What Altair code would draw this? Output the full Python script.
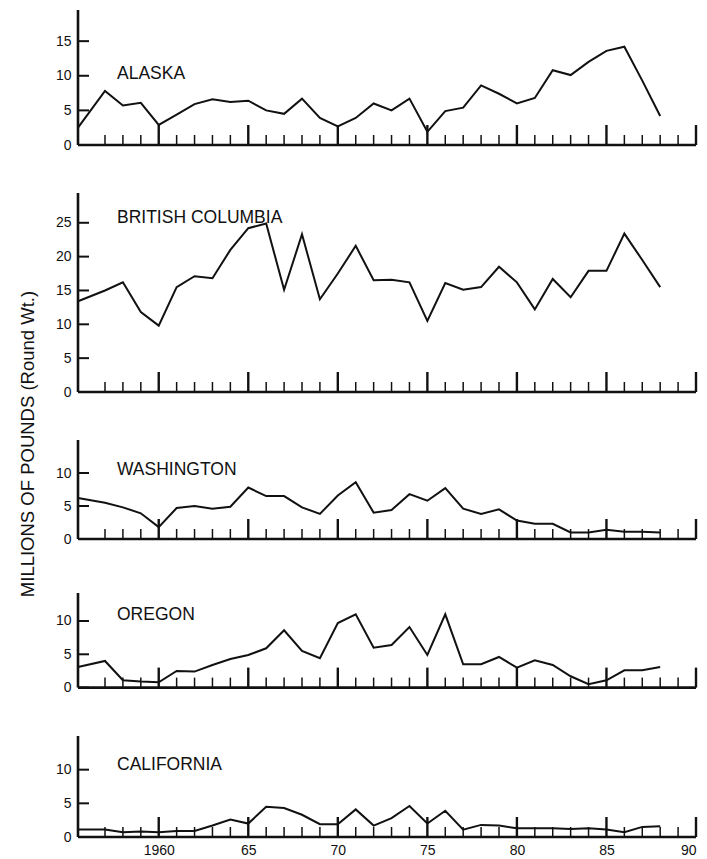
import altair as alt
import pandas as pd

FONT = "Liberation Sans"

# ---- data (millions of pounds, round weight) ----
years = list(range(1956, 1989))

alaska = [2.5, 7.8, 5.7, 6.1, 2.9, 4.4, 5.9, 6.6, 6.2, 6.4, 5.0, 4.5, 6.7, 3.9, 2.7, 3.9, 6.0,
          5.0, 6.7, 1.9, 4.9, 5.4, 8.6, 7.4, 6.0, 6.8, 10.8, 10.1, 12.0, 13.6, 14.2, 9.3, 4.2]
british_columbia = [13.4, 15.0, 16.2, 11.8, 9.8, 15.5, 17.1, 16.8, 21.0, 24.2, 24.9, 15.1, 23.3,
                    13.7, 17.5, 21.6, 16.5, 16.6, 16.2, 10.5, 16.1, 15.1, 15.5, 18.5, 16.2, 12.2,
                    16.7, 14.0, 17.9, 17.9, 23.4, 19.5, 15.5]
washington = [6.2, 5.5, 4.8, 3.9, 1.8, 4.7, 5.0, 4.6, 4.9, 7.8, 6.5, 6.5, 4.8, 3.8, 6.6, 8.6, 4.0,
              4.4, 6.8, 5.8, 7.7, 4.6, 3.8, 4.5, 2.8, 2.3, 2.3, 1.0, 1.0, 1.4, 1.1, 1.1, 1.0]
oregon = [3.1, 4.0, 1.1, 0.9, 0.8, 2.5, 2.4, 3.4, 4.3, 4.9, 5.9, 8.6, 5.5, 4.4, 9.7, 11.0, 6.0,
          6.4, 9.1, 4.9, 11.0, 3.5, 3.5, 4.6, 3.0, 4.1, 3.4, 1.7, 0.5, 1.1, 2.6, 2.6, 3.1]
california = [1.1, 1.1, 0.7, 0.8, 0.7, 0.9, 0.9, 1.7, 2.6, 2.0, 4.5, 4.3, 3.3, 1.9, 1.9, 4.1, 1.7,
              2.8, 4.6, 2.0, 3.9, 1.1, 1.8, 1.7, 1.3, 1.3, 1.3, 1.2, 1.3, 1.1, 0.7, 1.5, 1.6]

region_names = ["ALASKA", "BRITISH COLUMBIA", "WASHINGTON", "OREGON", "CALIFORNIA"]
tick_years = list(range(1957, 1991))
major_years = [1960, 1965, 1970, 1975, 1980, 1985, 1990]
y_tick_values = [[0, 5, 10, 15], [0, 5, 10, 15, 20, 25], [0, 5, 10], [0, 5, 10], [0, 5, 10]]
y_domains = [[0, 19.5], [0, 29.4], [-0.86, 15], [0, 14.2], [0, 15]]
y_title = "MILLIONS OF POUNDS (Round Wt.)"

# ---- layout ----
W = 618
heights = [135, 199, 104.7, 94.6, 101]
zero_px = [135, 199, 99, 94.6, 101]
name_y = [64, 25, 30, 22, 29]

X_SCALE = alt.Scale(domain=[1956, 1957, 1990], range=[0, 27, W], nice=False, zero=False)

series = [alaska, british_columbia, washington, oregon, california]


def panel(i):
    bottom = i == 4
    df = pd.DataFrame({"year": years, "value": series[i]})
    yscale = alt.Scale(domain=y_domains[i], nice=False, zero=False)
    yaxis = alt.Axis(values=y_tick_values[i], domain=False, ticks=False, tickSize=0, grid=False,
                     labelPadding=7, labelFontSize=14, labelFont=FONT, labelColor="#111",
                     title=None)
    if bottom:
        xaxis = alt.Axis(values=major_years, domain=False, ticks=False, tickSize=0, grid=False,
                         labelPadding=6, labelFontSize=14, labelFont=FONT, labelColor="#111",
                         labelExpr="datum.value == 1960 ? '1960' : substring(format(datum.value, 'd'), 2)",
                         title=None)
    else:
        xaxis = None

    def X(f):
        return alt.X(f, scale=X_SCALE, axis=xaxis)

    def Y(f):
        return alt.Y(f, scale=yscale, axis=yaxis)

    line = alt.Chart(df).mark_line(color="#111", strokeWidth=2).encode(
        x=X("year:Q"), y=Y("value:Q"))

    frame = pd.DataFrame({"x0": [1956], "x1": [1990], "y0": [0], "ytop": [y_domains[i][1]]})
    xline = alt.Chart(frame).mark_rule(color="#111", strokeWidth=2.6).encode(
        x=X("x0:Q"), x2="x1:Q", y=Y("y0:Q"))
    yline = alt.Chart(frame).mark_rule(color="#111", strokeWidth=2.6).encode(
        x=X("x0:Q"), y=Y("y0:Q"), y2="ytop:Q")

    ticks = pd.DataFrame({"year": tick_years, "zero": [0] * len(tick_years),
                          "major": [y in major_years for y in tick_years]})
    minor = alt.Chart(ticks).transform_filter("!datum.major").mark_rule(
        color="#111", strokeWidth=1.5).encode(
        x=X("year:Q"), y=Y("zero:Q"), y2=alt.value(zero_px[i] - 10))
    major = alt.Chart(ticks).transform_filter("datum.major").mark_rule(
        color="#111", strokeWidth=2.4).encode(
        x=X("year:Q"), y=Y("zero:Q"), y2=alt.value(zero_px[i] - 20))

    yt = pd.DataFrame({"v": y_tick_values[i]})
    yticks = alt.Chart(yt).mark_rule(color="#111", strokeWidth=2).encode(
        x=alt.value(0), x2=alt.value(11), y=Y("v:Q"))

    name = alt.Chart(pd.DataFrame({"label": [region_names[i]]})).mark_text(
        align="left", baseline="middle", fontSize=17.5, font=FONT, color="#111").encode(
        x=alt.value(39), y=alt.value(name_y[i]), text="label:N")

    layers = [yticks, minor, major, xline, yline, line, name]
    if i == 2:
        title = alt.Chart(pd.DataFrame({"t": [y_title]})).mark_text(
            angle=270, align="center", baseline="middle", fontSize=18.5, font=FONT,
            color="#111").encode(x=alt.value(-50), y=alt.value(4), text="t:N")
        layers.append(title)
    return alt.layer(*layers).properties(width=W, height=heights[i])


chart = alt.vconcat(*[panel(i) for i in range(5)], spacing=48, bounds="flush").properties(
    padding={"left": 18, "top": 8, "right": 6, "bottom": 2},
    background="white",
).configure_view(stroke=None)

chart.save("out.html", embed_options={"renderer": "svg", "actions": False})
